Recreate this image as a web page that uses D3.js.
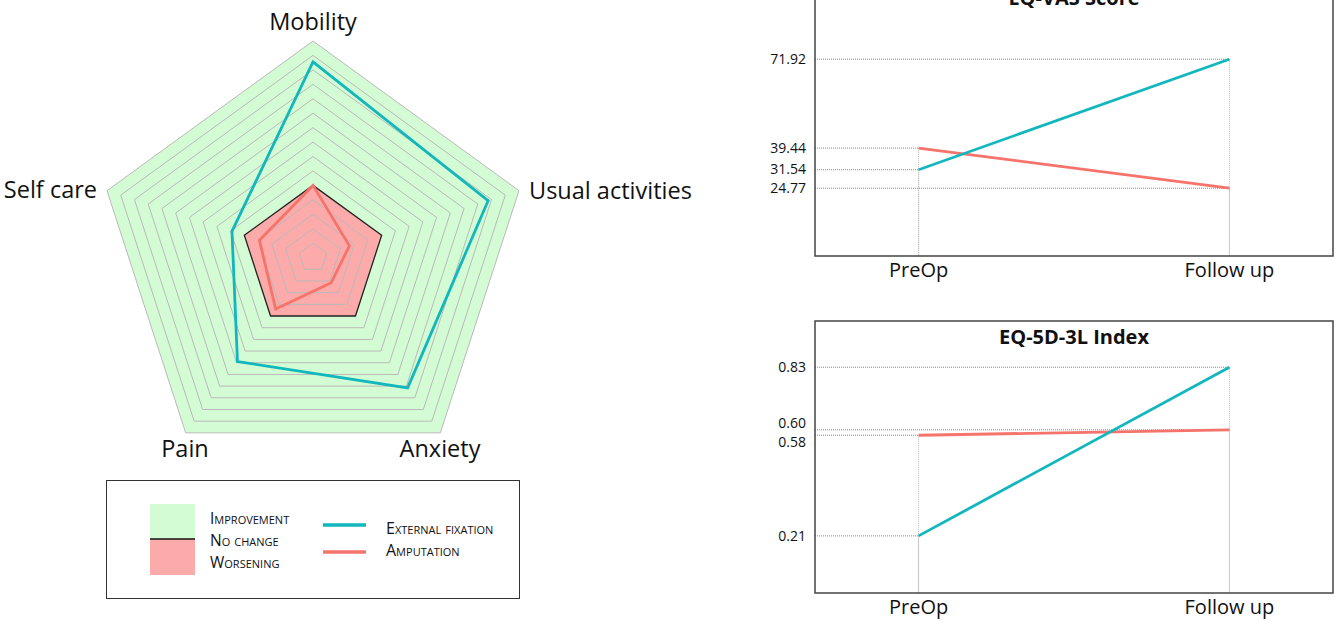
<!DOCTYPE html>
<html>
<head>
<meta charset="utf-8">
<script src="https://cdn.jsdelivr.net/npm/d3@7"></script>
<style>
  html, body { margin: 0; padding: 0; background: #fff; }
  svg { display: block; font-family: 'Open Sans', 'Noto Sans', sans-serif; }
</style>
</head>
<body>
<svg id="chart" width="1338" height="621"></svg>
<script>
// radar data (change score per EQ-5D dimension, 0 = no change)
const dimensions = ['Mobility', 'Usual activities', 'Anxiety', 'Pain', 'Self care'];
const extFixChange = [1.71, 1.55, 1.23, 0.78, 0.18];
const amputChange = [0.0, -0.47, -0.57, -0.12, -0.22];
const ringLevels = d3.range(-0.8, 2.001, 0.2);

// line charts
const periods = ['PreOp', 'Follow up'];
const vasExtFix = [31.54, 71.92];
const vasAmput = [39.44, 24.77];
const indexExtFix = [0.21, 0.83];
const indexAmput = [0.58, 0.60];

const teal = '#12b7bd';
const red = '#f6736b';

const svg = d3.select('#chart');

// ---------- radar ----------
const cx = 313, cy = 257.6, radius = 216.6;
const r = d3.scaleLinear().domain([-1, 2]).range([0, radius]);
const angle = i => i * 2 * Math.PI / dimensions.length - Math.PI / 2;
const pt = (v, i) => [cx + r(v) * Math.cos(angle(i)), cy + r(v) * Math.sin(angle(i))];
const ringLine = d3.line().curve(d3.curveLinearClosed);
const ringPts = v => dimensions.map((d, i) => pt(v, i));

const radar = svg.append('g');

radar.append('path')
  .attr('d', ringLine(ringPts(2)))
  .attr('fill', '#d4fcd4');

radar.append('path')
  .attr('d', ringLine(ringPts(0)))
  .attr('fill', '#fdaaaa');

radar.selectAll('.ring')
  .data(ringLevels.filter(v => Math.abs(v) > 1e-6))
  .enter().append('path')
  .attr('class', 'ring')
  .attr('d', v => ringLine(ringPts(v)))
  .attr('fill', 'none')
  .attr('stroke', '#b9b9b9')
  .attr('stroke-width', 1);

radar.append('path')
  .attr('d', ringLine(ringPts(0)))
  .attr('fill', 'none')
  .attr('stroke', '#222')
  .attr('stroke-width', 1.3);

[[amputChange, red], [extFixChange, teal]].forEach(([vals, col]) => {
  radar.append('path')
    .attr('d', ringLine(vals.map((v, i) => pt(v, i))))
    .attr('fill', 'none')
    .attr('stroke', col)
    .attr('stroke-width', 2.8)
    .attr('stroke-linejoin', 'miter');
});

// axis labels
const labelPos = [
  { x: 313, y: 30, anchor: 'middle' },
  { x: 529, y: 199, anchor: 'start' },
  { x: 440, y: 457, anchor: 'middle' },
  { x: 185, y: 457, anchor: 'middle' },
  { x: 97, y: 198, anchor: 'end' }
];
radar.selectAll('.dim')
  .data(dimensions)
  .enter().append('text')
  .attr('class', 'dim')
  .attr('x', (d, i) => labelPos[i].x)
  .attr('y', (d, i) => labelPos[i].y)
  .attr('text-anchor', (d, i) => labelPos[i].anchor)
  .style('font-size', '23.5px')
  .style('fill', '#111')
  .text(d => d);

// ---------- legend ----------
const legend = svg.append('g');
legend.append('rect')
  .attr('x', 106.5).attr('y', 480.5)
  .attr('width', 413).attr('height', 118)
  .attr('fill', '#fff').attr('stroke', '#333').attr('stroke-width', 1);

legend.append('rect').attr('x', 150).attr('y', 504).attr('width', 45).attr('height', 35).attr('fill', '#d4fcd4');
legend.append('rect').attr('x', 150).attr('y', 539).attr('width', 45).attr('height', 36).attr('fill', '#fdaaaa');
legend.append('line').attr('x1', 150).attr('x2', 195).attr('y1', 539).attr('y2', 539)
  .attr('stroke', '#111').attr('stroke-width', 1.3);

const areaLabels = ['Improvement', 'No change', 'Worsening'];
legend.selectAll('.alab')
  .data(areaLabels)
  .enter().append('text')
  .attr('class', 'alab')
  .attr('x', 210)
  .attr('y', (d, i) => 524 + i * 22)
  .style('font-size', '15.5px')
  .style('font-variant', 'small-caps')
  .style('fill', '#111')
  .text(d => d);

const seriesLabels = ['External fixation', 'Amputation'];
[teal, red].forEach((col, i) => {
  legend.append('line')
    .attr('x1', 323).attr('x2', 366)
    .attr('y1', 525 + i * 27).attr('y2', 525 + i * 27)
    .attr('stroke', col).attr('stroke-width', 3.5);
  legend.append('text')
    .attr('x', 386).attr('y', 534 + i * 22)
    .style('font-size', '16px')
    .style('font-variant', 'small-caps')
    .style('fill', '#111')
    .text(seriesLabels[i]);
});

// ---------- line charts ----------
function lineChart(title, top, bottom, maxVal, ext, amp) {
  const left = 815, right = 1333;
  const x = d3.scalePoint().domain(periods).range([left, right]).padding(1 / 3);
  const y = d3.scaleLinear().domain([0, maxVal]).range([bottom, top]);
  const g = svg.append('g');

  const pts = [];
  [ext, amp].forEach(vals => vals.forEach((v, i) => pts.push({ p: periods[i], v })));

  // dotted guides
  pts.forEach(d => {
    g.append('line')
      .attr('x1', left).attr('x2', x(d.p))
      .attr('y1', y(d.v)).attr('y2', y(d.v))
      .attr('stroke', '#8a8a8a').attr('stroke-width', 1).attr('stroke-dasharray', '1,1');
    g.append('line')
      .attr('x1', x(d.p)).attr('x2', x(d.p))
      .attr('y1', y(d.v)).attr('y2', bottom)
      .attr('stroke', '#bbb').attr('stroke-width', 1).attr('stroke-dasharray', '1,1');
  });

  const line = d3.line().x((d, i) => x(periods[i])).y(d => y(d));
  [[amp, red], [ext, teal]].forEach(([vals, col]) => {
    g.append('path')
      .attr('d', line(vals))
      .attr('fill', 'none')
      .attr('stroke', col)
      .attr('stroke-width', 2.8);
  });

  g.append('rect')
    .attr('x', left).attr('y', top)
    .attr('width', right - left).attr('height', bottom - top)
    .attr('fill', 'none').attr('stroke', '#444').attr('stroke-width', 1.5);

  // tick labels at data values, nudged apart when too close
  const ticks = pts.map(d => d.v).sort((a, b) => b - a);
  const labelY = ticks.map(v => y(v));
  for (let i = 1; i < labelY.length; i++) {
    const gap = labelY[i] - labelY[i - 1];
    if (gap < 19) {
      const push = (19 - gap) / 2;
      labelY[i - 1] -= push;
      labelY[i] += push;
    }
  }
  g.selectAll('.tick')
    .data(ticks)
    .enter().append('text')
    .attr('class', 'tick')
    .attr('x', 806)
    .attr('y', (d, i) => labelY[i])
    .attr('dy', '0.35em')
    .attr('text-anchor', 'end')
    .style('font-size', '14px')
    .style('fill', '#111')
    .text(d => d3.format('.2f')(d));

  g.selectAll('.xlab')
    .data(periods)
    .enter().append('text')
    .attr('class', 'xlab')
    .attr('x', d => x(d))
    .attr('y', bottom + 21)
    .attr('text-anchor', 'middle')
    .style('font-size', '20px')
    .style('fill', '#111')
    .text(d => d);

  g.append('text')
    .attr('x', (left + right) / 2)
    .attr('y', top + 23)
    .attr('text-anchor', 'middle')
    .style('font-size', '20px')
    .style('font-weight', 'bold')
    .style('fill', '#111')
    .text(title);
}

lineChart('EQ-VAS Score', -17.6, 256, 100, vasExtFix, vasAmput);
lineChart('EQ-5D-3L Index', 321, 593, 1, indexExtFix, indexAmput);
</script>
</body>
</html>
